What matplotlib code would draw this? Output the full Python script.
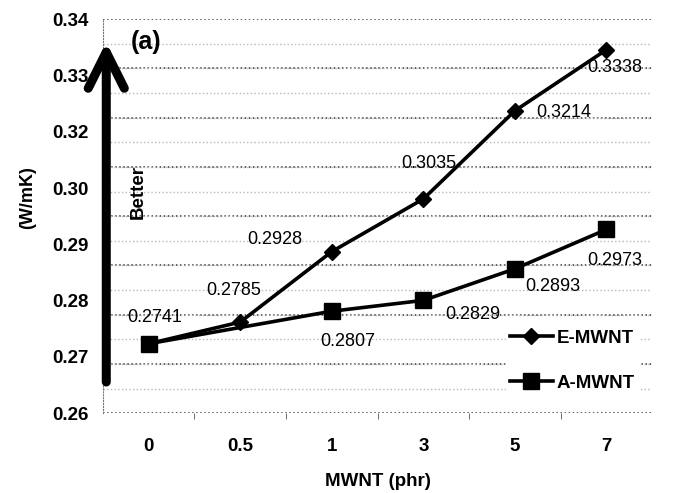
import matplotlib
matplotlib.use('Agg')
import matplotlib.pyplot as plt
import numpy as np

plt.rcParams['font.family'] = ['Liberation Sans', 'DejaVu Sans']

# data
mwnt = ['0', '0.5', '1', '3', '5', '7']
e_mwnt = [0.2741, 0.2785, 0.2928, 0.3035, 0.3214, 0.3338]
a_idx = [0, 2, 3, 4, 5]  # A-MWNT has no 0.5 phr point
a_mwnt = [0.2741, 0.2807, 0.2829, 0.2893, 0.2973]
ytick_labels = ['0.26', '0.27', '0.28', '0.29', '0.30', '0.32', '0.33', '0.34']

# label offsets in pixels (dx, dy)
e_offsets = [(6, 26), (-7, 32), (-57, 12), (5, 35), (49, -2), (8, -18)]
a_offsets = [None, (16, -30), (49, -14), (38, -18), (8, -31)]

fig = plt.figure(figsize=(6.73, 4.93), dpi=100)
ax = fig.add_axes([0.153, 0.162, 0.816, 0.799])

x = np.arange(len(mwnt))
ax.plot(x, e_mwnt, color='black', lw=2.6, marker='D', ms=8, label='E-MWNT', zorder=4)
ax.plot(x[a_idx], a_mwnt, color='black', lw=2.6, marker='s', ms=11, label='A-MWNT', zorder=4)

for xi, v, off in zip(x, e_mwnt, e_offsets):
    ax.annotate('%.4f' % v, (xi, v), xytext=off, textcoords='offset pixels',
                ha='center', va='center', fontsize=13, zorder=5)
for xi, v, off in zip(x[a_idx], a_mwnt, a_offsets):
    if off is None:
        continue
    ax.annotate('%.4f' % v, (xi, v), xytext=off, textcoords='offset pixels',
                ha='center', va='center', fontsize=13, zorder=5)

ax.set_xlim(-0.5, 5.5)
ax.set_ylim(0.26, 0.34)

# grid: dark dotted every 0.01, light dotted in between
ax.set_yticks(np.arange(0.26, 0.3401, 0.005), minor=True)
ax.grid(which='minor', axis='y', color='#b8b8b8', ls=':', lw=1.0)
ax.hlines(np.arange(0.26, 0.3451, 0.01), -0.5, 5.5, colors='#333333', linestyles=':', lw=1.1, zorder=1)

ax.set_yticks(np.linspace(0.26, 0.34, len(ytick_labels)))
ax.set_yticklabels(ytick_labels)
ax.set_xticks(x)
ax.set_xticklabels(mwnt)
ax.set_xticks(x[:-1] + 0.5, minor=True)
ax.tick_params(axis='y', which='both', length=0, pad=10, labelsize=13.5)
ax.tick_params(axis='x', which='major', length=0, pad=18, labelsize=13.5)
ax.tick_params(axis='x', which='minor', length=4, color='#555555', direction='out')
for t in ax.get_xticklabels() + ax.get_yticklabels():
    t.set_fontweight('bold')

for s in ['top', 'right', 'bottom']:
    ax.spines[s].set_visible(False)
ax.spines['left'].set_linestyle(':')
ax.spines['left'].set_color('#777777')

ax.set_xlabel('MWNT (phr)', fontsize=13.5, fontweight='bold', labelpad=13)
ax.set_ylabel('(W/mK)', fontsize=13, fontweight='bold')
ax.yaxis.set_label_coords(-0.122, 0.546)

# "Better" arrow
ax.annotate('', xy=(0.006, 0.942), xytext=(0.006, 0.079), xycoords='axes fraction',
            arrowprops=dict(arrowstyle='->,head_length=1.3,head_width=0.65', lw=6.5,
                            color='black', shrinkA=0, shrinkB=0, mutation_scale=20),
            annotation_clip=False, zorder=6)
ax.text(0.064, 0.561, 'Better', transform=ax.transAxes, rotation=90,
        ha='center', va='center', fontsize=13.5, fontweight='bold')
ax.text(0.078, 0.942, '(a)', transform=ax.transAxes, ha='center', va='center',
        fontsize=18, fontweight='bold')

leg = ax.legend(loc='center left', bbox_to_anchor=(0.734, 0.133), frameon=True,
                fancybox=False, edgecolor='white', framealpha=1, borderaxespad=0,
                borderpad=0.2, handlelength=2.3, handletextpad=0.2, labelspacing=1.5,
                prop={'size': 13.5, 'weight': 'bold'})

fig.savefig('out.png', dpi=100)
